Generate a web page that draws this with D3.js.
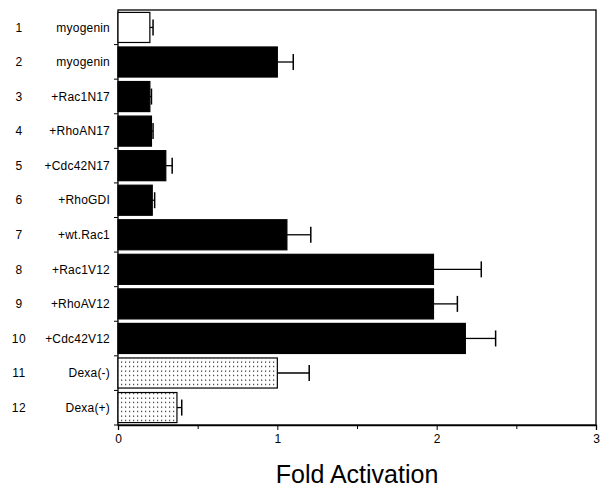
<!DOCTYPE html>
<html>
<head>
<meta charset="utf-8">
<script src="https://cdn.jsdelivr.net/npm/d3@7"></script>
<style>
  html, body { margin: 0; padding: 0; background: #fff; }
  text { font-family: "Liberation Sans", Arial, sans-serif; fill: #000; }
</style>
</head>
<body>
<svg id="chart" width="609" height="496"></svg>
<script>
// ---- data ----
const rowNumbers = ["1","2","3","4","5","6","7","8","9","10","11","12"];
const conditions = ["myogenin","myogenin","+Rac1N17","+RhoAN17","+Cdc42N17","+RhoGDI",
                    "+wt.Rac1","+Rac1V12","+RhoAV12","+Cdc42V12","Dexa(-)","Dexa(+)"];
const foldValues = [0.20, 1.00, 0.20, 0.21, 0.30, 0.215, 1.06, 1.98, 1.98, 2.18, 1.00, 0.37];
const errorTops  = [0.22, 1.10, 0.21, 0.22, 0.34, 0.23, 1.21, 2.28, 2.13, 2.37, 1.20, 0.40];
const fillTypes  = ["open","solid","solid","solid","solid","solid","solid","solid","solid","solid","dots","dots"];
const xTicks = [0, 1, 2, 3];
const xMinorTicks = [0.5, 1.5, 2.5];
const xTitle = "Fold Activation";

(function draw() {
const rows = rowNumbers.map((n, i) => ({
  id: i, num: n, label: conditions[i], value: foldValues[i], err: errorTops[i], fill: fillTypes[i]
}));

// ---- layout ----
const svg = d3.select("#chart");
const pLeft = 118, pRight = 596, pTop = 10, pBottom = 425;

const x = d3.scaleLinear().domain([0, 3]).range([pLeft, pRight]);
const y = d3.scaleBand().domain(rows.map(d => d.id)).range([pTop, pBottom])
  .paddingInner(0.13).paddingOuter(0.07);
const yStep = (pBottom - pTop) / rows.length;

// dotted pattern
const defs = svg.append("defs");
const pat = defs.append("pattern").attr("id", "dots")
  .attr("patternUnits", "userSpaceOnUse").attr("width", 4).attr("height", 4.5);
pat.append("rect").attr("width", 4).attr("height", 4.5).attr("fill", "#fff");
pat.append("rect").attr("x", 1).attr("y", 1.5).attr("width", 1.2).attr("height", 1.2).attr("fill", "#222");

// frame
svg.append("rect").attr("x", pLeft).attr("y", pTop)
  .attr("width", pRight - pLeft).attr("height", pBottom - pTop)
  .attr("fill", "none").attr("stroke", "#000").attr("stroke-width", 1.3);

// bars
svg.selectAll("rect.bar").data(rows).join("rect").attr("class", "bar")
  .attr("x", x(0))
  .attr("y", d => y(d.id))
  .attr("width", d => x(d.value) - x(0))
  .attr("height", y.bandwidth())
  .attr("fill", d => d.fill === "solid" ? "#000" : d.fill === "dots" ? "url(#dots)" : "#fff")
  .attr("stroke", "#000").attr("stroke-width", 1.2);

// error bars
const eb = svg.selectAll("g.err").data(rows).join("g").attr("class", "err");
eb.append("line")
  .attr("x1", d => x(d.value)).attr("x2", d => x(d.err))
  .attr("y1", d => y(d.id) + y.bandwidth() / 2).attr("y2", d => y(d.id) + y.bandwidth() / 2)
  .attr("stroke", "#000").attr("stroke-width", 1.3);
eb.append("line")
  .attr("x1", d => x(d.err)).attr("x2", d => x(d.err))
  .attr("y1", d => y(d.id) + y.bandwidth() / 2 - 8).attr("y2", d => y(d.id) + y.bandwidth() / 2 + 8)
  .attr("stroke", "#000").attr("stroke-width", 1.5);

// bottom axis
const xAxis = svg.append("g").attr("transform", `translate(0,${pBottom})`)
  .call(d3.axisBottom(x).tickValues(xTicks).tickFormat(d3.format("d")).tickSize(5).tickPadding(4));
xAxis.select(".domain").attr("stroke-width", 1.3);
xAxis.selectAll("text").attr("font-size", 12).attr("font-family", "Liberation Sans, Arial, sans-serif");
const xMinor = svg.append("g").attr("transform", `translate(0,${pBottom})`)
  .call(d3.axisBottom(x).tickValues(xMinorTicks).tickSize(4).tickFormat(""));
xMinor.select(".domain").remove();

// left band-boundary ticks
const boundaries = d3.range(1, rows.length + 1).map(i => pTop + i * yStep);
svg.selectAll("line.ytick").data(boundaries).join("line").attr("class", "ytick")
  .attr("x1", pLeft - 4).attr("x2", pLeft).attr("y1", d => d).attr("y2", d => d)
  .attr("stroke", "#000").attr("stroke-width", 1);

// row numbers and labels
svg.selectAll("text.num").data(rows).join("text").attr("class", "num")
  .attr("x", 19).attr("y", d => y(d.id) + y.bandwidth() / 2)
  .attr("dy", "0.35em").attr("text-anchor", "middle").attr("font-size", 12)
  .attr("letter-spacing", 0.5)
  .text(d => d.num);
svg.selectAll("text.lab").data(rows).join("text").attr("class", "lab")
  .attr("x", 110).attr("y", d => y(d.id) + y.bandwidth() / 2)
  .attr("dy", "0.35em").attr("text-anchor", "end").attr("font-size", 12)
  .attr("letter-spacing", 0.2)
  .text(d => d.label);

// x title
svg.append("text").attr("x", (pLeft + pRight) / 2).attr("y", 483)
  .attr("text-anchor", "middle").attr("font-size", 25).text(xTitle);
})();
</script>
</body>
</html>
